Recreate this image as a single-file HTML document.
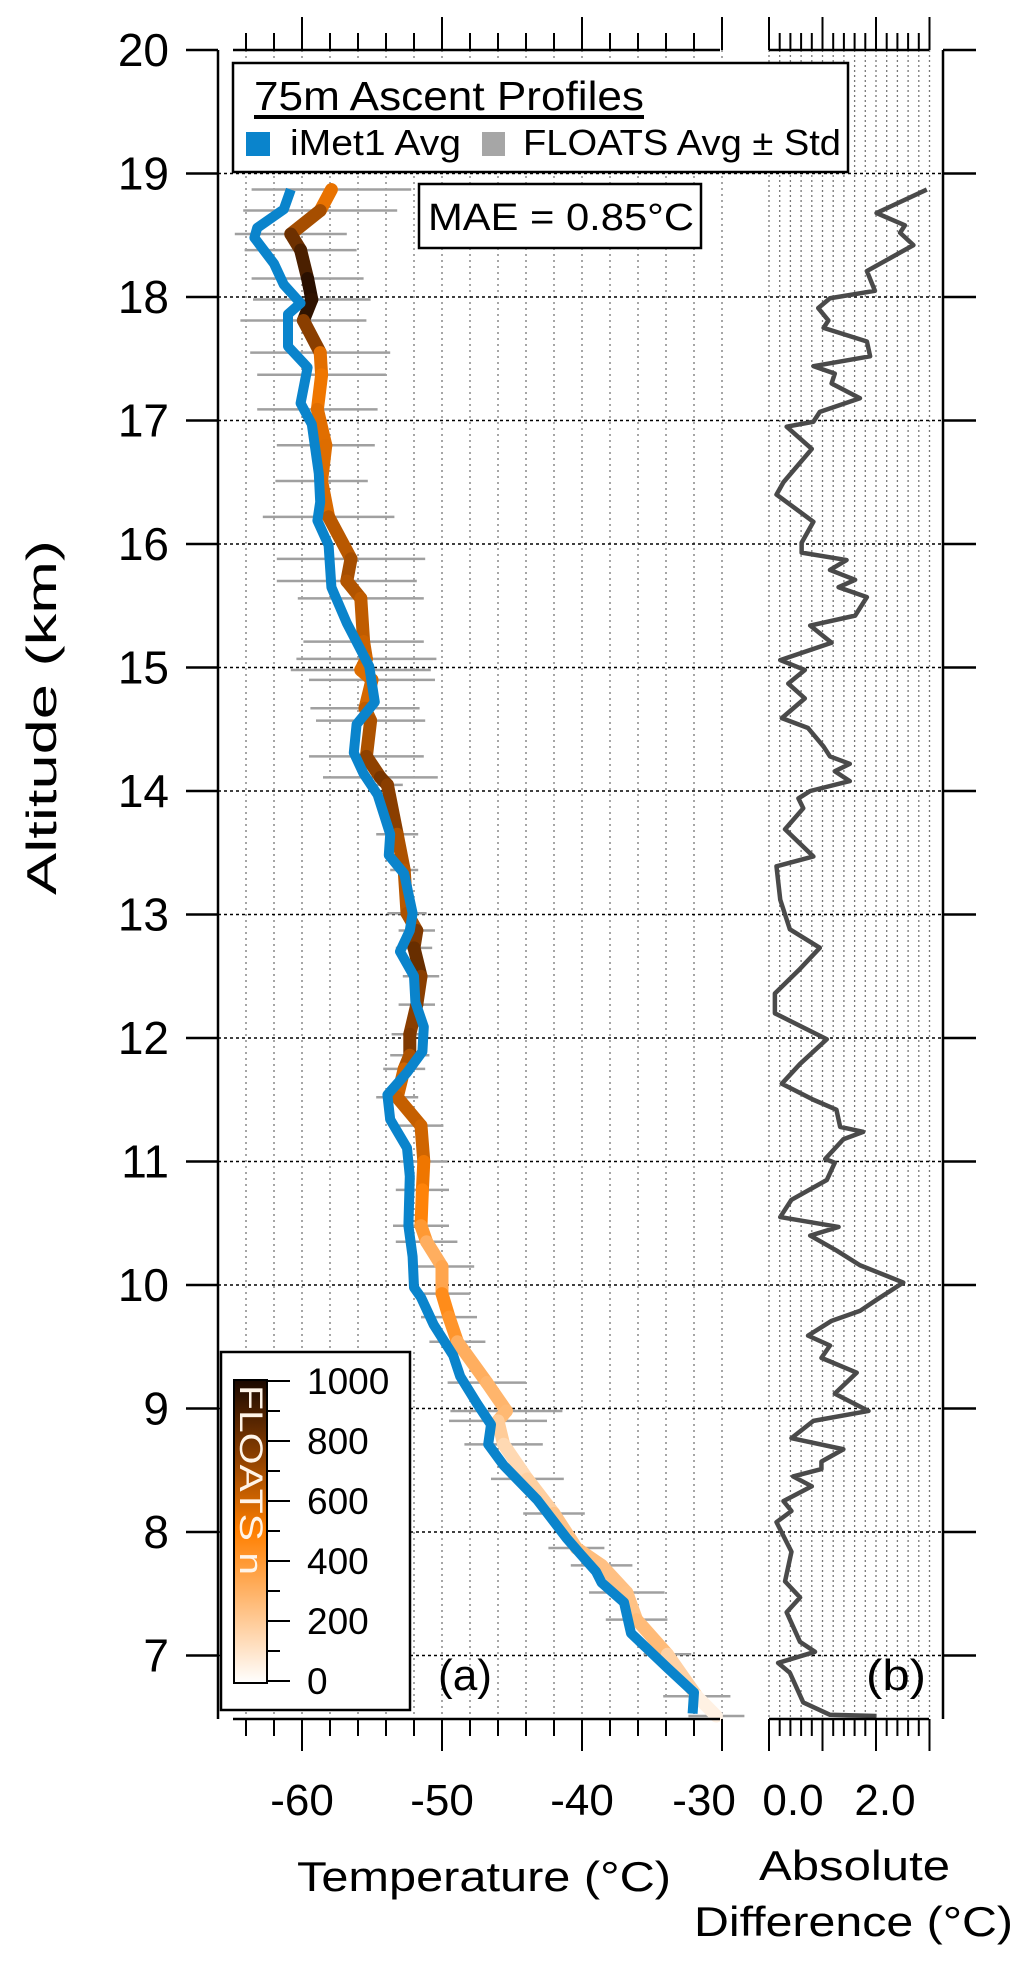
<!DOCTYPE html>
<html><head><meta charset="utf-8">
<style>
html,body{margin:0;padding:0;background:#fff;}
svg{display:block;}
text{font-family:"Liberation Sans",sans-serif;fill:#000;}
</style></head>
<body>
<svg id="chart" width="1033" height="1966" viewBox="0 0 1033 1966" xmlns="http://www.w3.org/2000/svg">
<defs>
<linearGradient id="nGrad" x1="0" y1="0" x2="0" y2="1">
<stop offset="0" stop-color="#1a0800"/>
<stop offset="0.25" stop-color="#8a3e00"/>
<stop offset="0.5" stop-color="#ff7f00"/>
<stop offset="0.75" stop-color="#ffbf80"/>
<stop offset="1" stop-color="#ffffff"/>
</linearGradient>
</defs>
<g id="grid"></g>
<g id="errbars"></g>
<g id="orange"></g>
<g id="blue"></g>
<g id="diff"></g>
<g id="axes"></g>

<g>
<rect x="233" y="63" width="615" height="109" fill="#fff" stroke="#000" stroke-width="2.5"/>
<text x="254" y="110" font-size="41" textLength="390" lengthAdjust="spacingAndGlyphs">75m Ascent Profiles</text>
<rect x="254" y="115" width="390" height="4" fill="#000"/>
<rect x="246" y="132" width="24" height="24" fill="#0a84cc"/>
<text x="290" y="155" font-size="36" textLength="171" lengthAdjust="spacingAndGlyphs">iMet1 Avg</text>
<rect x="482" y="132" width="23" height="24" fill="#a6a6a6"/>
<text x="523" y="155" font-size="36" textLength="318" lengthAdjust="spacingAndGlyphs">FLOATS Avg ± Std</text>
</g>
<g>
<rect x="419" y="184" width="282" height="64" fill="#fff" stroke="#000" stroke-width="2.5"/>
<text x="428" y="230" font-size="38" textLength="266" lengthAdjust="spacingAndGlyphs">MAE = 0.85°C</text>
</g>

<g>
<rect x="221" y="1352" width="189" height="358" fill="#fff" stroke="#000" stroke-width="2.5"/>
<rect x="234" y="1380" width="33" height="303" fill="url(#nGrad)" stroke="#000" stroke-width="2"/>
<g id="cbticks"></g>
<text transform="translate(240,1385) rotate(90)" font-size="32" fill="#fff4e8" style="fill:#fff4e8" textLength="190" lengthAdjust="spacingAndGlyphs">FLOATS n</text>
</g>

<text x="438" y="1690" font-size="44" textLength="54" lengthAdjust="spacingAndGlyphs">(a)</text>
<text x="866" y="1690" font-size="44" textLength="60" lengthAdjust="spacingAndGlyphs">(b)</text>

<text x="297" y="1891" font-size="42" textLength="374" lengthAdjust="spacingAndGlyphs">Temperature (°C)</text>
<text x="759" y="1880" font-size="42" textLength="191" lengthAdjust="spacingAndGlyphs">Absolute</text>
<text x="694" y="1936" font-size="42" textLength="319" lengthAdjust="spacingAndGlyphs">Difference (°C)</text>
<text transform="translate(56,895) rotate(-90)" font-size="42" textLength="355" lengthAdjust="spacingAndGlyphs">Altitude (km)</text>
</svg>

<script>
// ---- data ----
const blueAlt = [18.87,18.71,18.56,18.48,18.27,18.10,17.95,17.86,17.60,17.43,17.14,16.97,16.57,16.34,16.19,15.99,15.65,15.36,15.01,14.72,14.54,14.31,14.14,13.97,13.65,13.48,13.33,13.01,12.87,12.70,12.50,12.29,12.09,11.89,11.72,11.54,11.34,11.11,10.88,10.48,10.23,9.98,9.90,9.68,9.43,9.26,9.04,8.87,8.71,8.54,8.26,7.95,7.82,7.68,7.59,7.43,7.18,6.90,6.70,6.53];
const blueTemp = [-60.8,-61.3,-63.2,-63.4,-62.0,-61.3,-60.1,-61.0,-61.0,-59.6,-60.1,-59.3,-58.8,-58.7,-58.9,-58.1,-57.9,-56.8,-55.2,-54.8,-56.1,-56.3,-55.6,-54.6,-53.7,-53.8,-52.7,-52.1,-52.3,-53.0,-52.0,-51.9,-51.3,-51.4,-52.5,-53.9,-53.7,-52.5,-52.3,-52.4,-52.1,-52.0,-51.5,-50.6,-49.2,-48.7,-47.5,-46.5,-46.7,-45.6,-43.2,-41.1,-40.1,-39.0,-38.6,-37.0,-36.5,-33.9,-32.0,-32.1];

const floatsAlt = [18.87,18.70,18.51,18.38,18.15,17.98,17.81,17.55,17.37,17.09,16.80,16.51,16.22,15.88,15.70,15.56,15.21,15.07,14.98,14.90,14.67,14.57,14.28,14.11,14.05,13.65,13.36,13.01,12.87,12.73,12.50,12.27,12.03,11.86,11.75,11.52,11.29,11.00,10.77,10.48,10.35,10.15,9.93,9.74,9.54,9.21,8.98,8.90,8.71,8.43,8.15,7.87,7.73,7.51,7.29,7.01,6.67,6.51];
const floatsTemp = [-57.9,-58.7,-60.8,-60.1,-59.6,-59.3,-59.9,-58.7,-58.6,-58.9,-58.3,-58.6,-58.1,-56.5,-56.8,-55.8,-55.6,-55.4,-55.8,-55.0,-55.5,-55.1,-55.4,-54.4,-53.9,-53.2,-52.7,-52.5,-51.8,-52.0,-51.5,-51.8,-52.3,-52.3,-52.7,-53.2,-51.5,-51.3,-51.4,-51.5,-51.1,-50.0,-50.0,-49.5,-48.9,-46.8,-45.4,-46.0,-45.6,-43.9,-42.0,-40.4,-38.6,-36.8,-36.1,-33.9,-31.8,-30.4];
const floatsN = [500,600,780,850,930,1000,900,600,520,550,580,560,600,700,680,650,620,600,580,560,620,650,700,780,800,700,650,650,700,850,800,700,800,750,600,600,650,550,520,450,350,280,420,480,350,280,300,250,150,150,220,250,260,230,250,280,80,30];
const floatsStd = [5.7,5.5,4.0,4.0,4.0,4.2,4.5,5.0,4.6,4.3,3.5,3.3,4.7,5.3,5.0,4.5,4.3,5.0,5.0,4.5,3.9,3.9,4.1,4.1,1.1,1.5,1.0,1.4,1.3,1.3,1.3,1.3,1.3,1.4,1.5,1.5,1.6,1.7,1.9,2.0,2.2,2.3,2.0,2.0,2.0,2.8,4.0,3.5,2.8,2.6,2.2,2.0,2.2,2.7,2.2,1.7,2.4,2.0];

const diffAlt = [18.87,18.68,18.58,18.52,18.42,18.21,18.05,17.99,17.91,17.81,17.75,17.64,17.52,17.44,17.38,17.30,17.18,17.07,16.99,16.95,16.77,16.50,16.40,16.18,16.01,15.93,15.87,15.79,15.71,15.65,15.57,15.42,15.34,15.20,15.06,14.98,14.87,14.75,14.59,14.51,14.36,14.28,14.22,14.16,14.08,14.00,13.94,13.86,13.69,13.47,13.39,13.12,12.88,12.73,12.56,12.36,12.20,11.99,11.79,11.63,11.50,11.42,11.28,11.24,11.18,11.02,10.99,10.85,10.69,10.55,10.47,10.40,10.28,10.16,10.02,9.88,9.79,9.71,9.59,9.51,9.41,9.29,9.12,8.98,8.90,8.76,8.67,8.57,8.51,8.45,8.37,8.25,8.17,8.08,7.84,7.60,7.47,7.35,7.11,7.03,6.94,6.86,6.62,6.52,6.51];
const diffVal = [2.95,2.01,2.54,2.45,2.70,1.83,1.98,1.14,0.92,1.11,1.02,1.83,1.89,0.83,1.23,1.17,1.70,0.95,0.83,0.33,0.80,0.27,0.14,0.83,0.61,0.61,1.45,1.14,1.61,1.30,1.83,1.61,0.77,1.17,0.21,0.67,0.36,0.67,0.24,0.73,1.02,1.14,1.51,1.23,1.51,0.77,0.55,0.64,0.30,0.83,0.14,0.21,0.39,0.95,0.58,0.11,0.11,1.08,0.58,0.24,0.83,1.26,1.33,1.76,1.39,1.05,1.23,1.08,0.42,0.21,1.30,0.77,1.26,1.70,2.51,2.01,1.70,1.17,0.73,1.14,0.98,1.64,1.23,1.86,0.83,0.42,1.39,0.98,0.98,0.45,0.80,0.27,0.42,0.14,0.42,0.30,0.58,0.33,0.58,0.86,0.17,0.39,0.64,1.14,2.01];

const altTicks = [7,8,9,10,11,12,13,14,15,16,17,18,19,20];
const tempTickLabels = ["-60","-50","-40","-30"];
const tempTickValues = [-60,-50,-40,-30];
const diffTickLabels = ["0.0","2.0"];
const diffTickValues = [0,2];
const nTicks = [0,200,400,600,800,1000];

// ---- scales ----
const NS = "http://www.w3.org/2000/svg";
function yA(h){ return 50 + (20 - h) * 123.5; }
function xT(t){ return 302 + (t + 60) * 14; }
function xD(d){ return 769 + d * 53.5; }
function yN(n){ return 1681 - n / 1000 * 300; }
const nStops = [[0,[255,255,255]],[250,[255,191,128]],[500,[255,127,0]],[750,[138,62,0]],[1000,[26,8,0]]];
function nColor(n){
  for (let i=0;i<nStops.length-1;i++){
    const a=nStops[i], b=nStops[i+1];
    if (n<=b[0]){ const f=(n-a[0])/(b[0]-a[0]); const c=a[1].map((v,k)=>Math.round(v+(b[1][k]-v)*f)); return "rgb("+c.join(",")+")"; }
  }
  return "rgb(26,8,0)";
}
function mk(tag, attrs, parent){
  const e=document.createElementNS(NS,tag);
  for (const k in attrs) e.setAttribute(k, attrs[k]);
  parent.appendChild(e); return e;
}
const grid=document.getElementById("grid");
const axes=document.getElementById("axes");

// vertical grid panel a (every 2 degC)
for (let t=-64;t<=-30;t+=2){
  const l=mk("line",{x1:xT(t),x2:xT(t),y1:50,y2:1719,stroke:"#777","stroke-width":1.3,"stroke-dasharray":"2,4"},grid);
  
  
}
// vertical grid panel b (every 0.2)
for (let k=0;k<=15;k++){
  const l=mk("line",{x1:xD(k*0.2),x2:xD(k*0.2),y1:50,y2:1719,stroke:"#777","stroke-width":1.3,"stroke-dasharray":"2,3"},grid);
  
  
}
// horizontal grid
altTicks.forEach(h=>{
  if (h>=20) return;
  const l=mk("line",{x1:218,x2:943,y1:yA(h),y2:yA(h),stroke:"#000","stroke-width":1.6,"stroke-dasharray":"3,3"},grid);
  
  
});

// error bars
const eb=document.getElementById("errbars");
floatsAlt.forEach((h,i)=>{
  const l=mk("line",{x1:xT(floatsTemp[i]-floatsStd[i]),x2:xT(floatsTemp[i]+floatsStd[i]),y1:yA(h),y2:yA(h),stroke:"#a0a0a0","stroke-width":2.5},eb);
  
  
});
// orange segments colored by n
const og=document.getElementById("orange");
for (let i=0;i<floatsAlt.length-1;i++){
  const l=mk("line",{x1:xT(floatsTemp[i]),y1:yA(floatsAlt[i]),x2:xT(floatsTemp[i+1]),y2:yA(floatsAlt[i+1]),stroke:nColor((floatsN[i]+floatsN[i+1])/2),"stroke-width":13,"stroke-linecap":"round"},og);
  
  
}
// blue line
const bp=mk("polyline",{points:blueAlt.map((h,i)=>xT(blueTemp[i])+","+yA(h)).join(" "),fill:"none",stroke:"#0a84cc","stroke-width":10,"stroke-linejoin":"round"},document.getElementById("blue"));


// diff line
const dp=mk("polyline",{points:diffAlt.map((h,i)=>xD(diffVal[i])+","+yA(h)).join(" "),fill:"none",stroke:"#4a4a4a","stroke-width":4.5,"stroke-linejoin":"round"},document.getElementById("diff"));



// axes lines
const axisLines=[[218,50,218,1719],[943,50,943,1719],[233,50,720,50],[769,50,929,50],[233,1719,720,1719],[769,1719,929,1719]];
axisLines.forEach(a=>{
  const l=mk("line",{x1:a[0],y1:a[1],x2:a[2],y2:a[3],stroke:"#000","stroke-width":2.5},axes);
  
  
});
// altitude ticks + labels
altTicks.forEach(h=>{
  const y=yA(h);
  const l1=mk("line",{x1:186,x2:218,y1:y,y2:y,stroke:"#000","stroke-width":2.5},axes);
  
  
  const l2=mk("line",{x1:943,x2:976,y1:y,y2:y,stroke:"#000","stroke-width":2.5},axes);
  
  
  const t=mk("text",{x:169,y:y+16,"font-size":46,"text-anchor":"end"},axes);
  t.textContent=String(h);
  
  
});
// temperature ticks (top and bottom)
for (let t=-64;t<=-30;t+=2){
  const major=(t%10===0);
  const x=xT(t);
  const a=mk("line",{x1:x,x2:x,y1:50,y2:major?17:33,stroke:"#000","stroke-width":2},axes);
  
  
  const b=mk("line",{x1:x,x2:x,y1:1719,y2:major?1751:1736,stroke:"#000","stroke-width":2},axes);
  
  
}
for (let k=0;k<=15;k++){
  const major=(k%5===0);
  const x=xD(k*0.2);
  const a=mk("line",{x1:x,x2:x,y1:50,y2:major?17:33,stroke:"#000","stroke-width":2},axes);
  
  
  const b=mk("line",{x1:x,x2:x,y1:1719,y2:major?1751:1736,stroke:"#000","stroke-width":2},axes);
  
  
}
tempTickValues.forEach((v,i)=>{
  const t=mk("text",{x:xT(v)-(v===-30?18:0),y:1815,"font-size":44,"text-anchor":"middle"},axes);
  t.textContent=tempTickLabels[i];
  
  
});
diffTickValues.forEach((v,i)=>{
  const t=mk("text",{x:xD(v)+(v===0?24:9),y:1815,"font-size":44,"text-anchor":"middle"},axes);
  t.textContent=diffTickLabels[i];
  
  
});
// colorbar ticks
const cbt=document.getElementById("cbticks");
for (let n=0;n<=1000;n+=100){
  const major=(n%200===0);
  const l=mk("line",{x1:267,x2:major?290:280,y1:yN(n),y2:yN(n),stroke:"#000","stroke-width":2},cbt);
  
  
}
nTicks.forEach(n=>{
  const t=mk("text",{x:307,y:yN(n)+13,"font-size":37},cbt);
  t.textContent=String(n);
  
  
});
</script>
</body></html>
